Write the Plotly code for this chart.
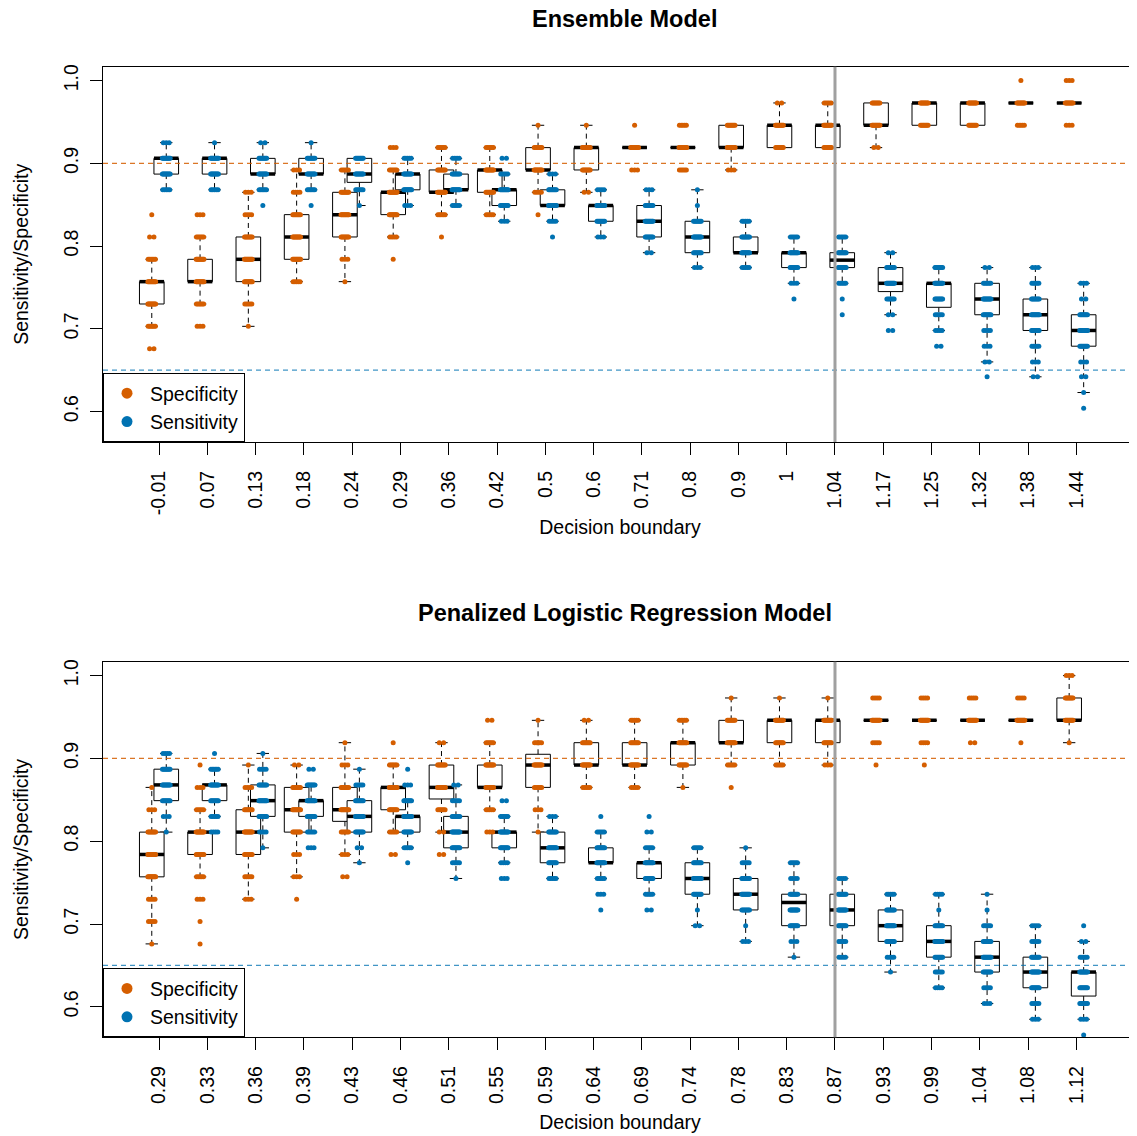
import numpy as np
import plotly.graph_objects as go

# ---------------- data ----------------
ens_labels = ["-0.01", "0.07", "0.13", "0.18", "0.24", "0.29", "0.36", "0.42", "0.5", "0.6",
              "0.71", "0.8", "0.9", "1", "1.04", "1.17", "1.25", "1.32", "1.38", "1.44"]
plr_labels = ["0.29", "0.33", "0.36", "0.39", "0.43", "0.46", "0.51", "0.55", "0.59", "0.64",
              "0.69", "0.74", "0.78", "0.83", "0.87", "0.93", "0.99", "1.04", "1.08", "1.12"]

# box summaries: (lower whisker, Q1, median, Q3, upper whisker)
ens_spec_box = [
    (0.703, 0.730, 0.757, 0.757, 0.784), (0.730, 0.757, 0.757, 0.784, 0.811),
    (0.703, 0.757, 0.784, 0.811, 0.865), (0.757, 0.784, 0.811, 0.838, 0.892),
    (0.757, 0.811, 0.838, 0.865, 0.892), (0.811, 0.838, 0.865, 0.865, 0.892),
    (0.838, 0.865, 0.865, 0.892, 0.919), (0.838, 0.865, 0.892, 0.892, 0.919),
    (0.865, 0.892, 0.892, 0.919, 0.946), (0.865, 0.892, 0.919, 0.919, 0.946),
    (0.919, 0.919, 0.919, 0.919, 0.919), (0.919, 0.919, 0.919, 0.919, 0.919),
    (0.892, 0.919, 0.919, 0.946, 0.946), (0.919, 0.919, 0.946, 0.946, 0.973),
    (0.919, 0.919, 0.946, 0.946, 0.973), (0.919, 0.946, 0.946, 0.973, 0.973),
    (0.946, 0.946, 0.973, 0.973, 0.973), (0.946, 0.946, 0.973, 0.973, 0.973),
    (0.973, 0.973, 0.973, 0.973, 0.973), (0.973, 0.973, 0.973, 0.973, 0.973)]
ens_sens_box = [
    (0.868, 0.887, 0.906, 0.906, 0.925), (0.868, 0.887, 0.906, 0.906, 0.925),
    (0.868, 0.887, 0.887, 0.906, 0.925), (0.868, 0.887, 0.887, 0.906, 0.925),
    (0.849, 0.877, 0.887, 0.906, 0.906), (0.849, 0.868, 0.887, 0.887, 0.906),
    (0.849, 0.868, 0.868, 0.887, 0.906), (0.830, 0.849, 0.868, 0.868, 0.887),
    (0.830, 0.849, 0.849, 0.868, 0.887), (0.811, 0.830, 0.849, 0.849, 0.868),
    (0.792, 0.811, 0.830, 0.849, 0.868), (0.774, 0.792, 0.811, 0.830, 0.868),
    (0.774, 0.792, 0.792, 0.811, 0.830), (0.755, 0.774, 0.792, 0.792, 0.811),
    (0.755, 0.774, 0.783, 0.792, 0.811), (0.717, 0.745, 0.755, 0.774, 0.792),
    (0.698, 0.726, 0.755, 0.755, 0.774), (0.660, 0.717, 0.736, 0.755, 0.774),
    (0.642, 0.698, 0.717, 0.736, 0.774), (0.623, 0.679, 0.698, 0.717, 0.755)]
plr_spec_box = [
    (0.676, 0.757, 0.784, 0.811, 0.865), (0.757, 0.784, 0.811, 0.811, 0.838),
    (0.730, 0.784, 0.811, 0.838, 0.892), (0.757, 0.811, 0.838, 0.865, 0.892),
    (0.784, 0.824, 0.838, 0.865, 0.919), (0.811, 0.838, 0.865, 0.865, 0.892),
    (0.811, 0.851, 0.865, 0.892, 0.919), (0.838, 0.865, 0.865, 0.892, 0.919),
    (0.811, 0.865, 0.892, 0.905, 0.946), (0.865, 0.892, 0.892, 0.919, 0.946),
    (0.865, 0.892, 0.892, 0.919, 0.946), (0.865, 0.892, 0.919, 0.919, 0.946),
    (0.892, 0.919, 0.919, 0.946, 0.973), (0.892, 0.919, 0.946, 0.946, 0.973),
    (0.892, 0.919, 0.946, 0.946, 0.973), (0.946, 0.946, 0.946, 0.946, 0.946),
    (0.946, 0.946, 0.946, 0.946, 0.946), (0.946, 0.946, 0.946, 0.946, 0.946),
    (0.946, 0.946, 0.946, 0.946, 0.946), (0.919, 0.946, 0.946, 0.973, 1.000)]
plr_sens_box = [
    (0.811, 0.849, 0.868, 0.887, 0.906), (0.830, 0.849, 0.868, 0.868, 0.887),
    (0.792, 0.830, 0.849, 0.868, 0.906), (0.811, 0.830, 0.849, 0.849, 0.868),
    (0.774, 0.811, 0.830, 0.849, 0.887), (0.792, 0.811, 0.830, 0.830, 0.849),
    (0.755, 0.792, 0.811, 0.830, 0.868), (0.774, 0.792, 0.811, 0.811, 0.830),
    (0.755, 0.774, 0.792, 0.811, 0.830), (0.755, 0.774, 0.774, 0.792, 0.811),
    (0.736, 0.755, 0.774, 0.774, 0.792), (0.698, 0.736, 0.755, 0.774, 0.792),
    (0.679, 0.717, 0.736, 0.755, 0.792), (0.660, 0.698, 0.726, 0.736, 0.774),
    (0.660, 0.698, 0.717, 0.736, 0.755), (0.642, 0.679, 0.698, 0.717, 0.736),
    (0.623, 0.660, 0.679, 0.698, 0.736), (0.604, 0.642, 0.660, 0.679, 0.736),
    (0.585, 0.623, 0.642, 0.660, 0.698), (0.585, 0.613, 0.642, 0.642, 0.679)]

# observed resample values per boundary: (value, count)
ens_spec_pts = [
    [(0.838, 1), (0.811, 2), (0.784, 6), (0.757, 10), (0.730, 10), (0.703, 6), (0.676, 2)],
    [(0.838, 3), (0.811, 6), (0.784, 10), (0.757, 10), (0.730, 6), (0.703, 3)],
    [(0.865, 3), (0.838, 4), (0.811, 8), (0.784, 10), (0.757, 10), (0.730, 5), (0.703, 1)],
    [(0.892, 3), (0.865, 4), (0.838, 8), (0.811, 10), (0.784, 10), (0.757, 5)],
    [(0.892, 5), (0.865, 8), (0.838, 10), (0.811, 8), (0.784, 3), (0.757, 1)],
    [(0.919, 3), (0.892, 6), (0.865, 10), (0.838, 10), (0.811, 4), (0.784, 1)],
    [(0.919, 6), (0.892, 8), (0.865, 10), (0.838, 6), (0.811, 1)],
    [(0.919, 6), (0.892, 10), (0.865, 8), (0.838, 5)],
    [(0.946, 1), (0.919, 8), (0.892, 10), (0.865, 4), (0.838, 1)],
    [(0.946, 1), (0.919, 10), (0.892, 8), (0.865, 2)],
    [(0.946, 1), (0.919, 10), (0.892, 3)],
    [(0.946, 5), (0.919, 10), (0.892, 5)],
    [(0.946, 8), (0.919, 10), (0.892, 3)],
    [(0.973, 2), (0.946, 10), (0.919, 8)],
    [(0.973, 5), (0.946, 10), (0.919, 8)],
    [(0.973, 8), (0.946, 10), (0.919, 2)],
    [(0.973, 10), (0.946, 8)],
    [(0.973, 10), (0.946, 8)],
    [(1.000, 1), (0.973, 10), (0.946, 5)],
    [(1.000, 3), (0.973, 10), (0.946, 3)]]
ens_sens_pts = [
    [(0.925, 3), (0.906, 10), (0.887, 10), (0.868, 5)],
    [(0.925, 1), (0.906, 10), (0.887, 10), (0.868, 5)],
    [(0.925, 2), (0.906, 8), (0.887, 10), (0.868, 6), (0.849, 1)],
    [(0.925, 1), (0.906, 8), (0.887, 10), (0.868, 6), (0.849, 1)],
    [(0.906, 8), (0.887, 10), (0.868, 6), (0.849, 1)],
    [(0.906, 5), (0.887, 10), (0.868, 10), (0.849, 3)],
    [(0.906, 4), (0.887, 8), (0.868, 10), (0.849, 5)],
    [(0.906, 2), (0.887, 5), (0.868, 10), (0.849, 8), (0.830, 3)],
    [(0.887, 3), (0.868, 8), (0.849, 10), (0.830, 4), (0.811, 1)],
    [(0.868, 4), (0.849, 10), (0.830, 8), (0.811, 3)],
    [(0.868, 3), (0.849, 8), (0.830, 10), (0.811, 8), (0.792, 2)],
    [(0.868, 1), (0.849, 1), (0.830, 8), (0.811, 10), (0.792, 8), (0.774, 3)],
    [(0.830, 5), (0.811, 8), (0.792, 10), (0.774, 5)],
    [(0.811, 5), (0.792, 10), (0.774, 8), (0.755, 3), (0.736, 1)],
    [(0.811, 5), (0.792, 10), (0.774, 10), (0.755, 5), (0.736, 1), (0.717, 1)],
    [(0.792, 2), (0.774, 8), (0.755, 10), (0.736, 6), (0.717, 2), (0.698, 2)],
    [(0.774, 8), (0.755, 10), (0.736, 8), (0.717, 5), (0.698, 4), (0.679, 2)],
    [(0.774, 2), (0.755, 6), (0.736, 10), (0.717, 8), (0.698, 4), (0.679, 3), (0.660, 2), (0.642, 1)],
    [(0.774, 3), (0.755, 5), (0.736, 8), (0.717, 10), (0.698, 8), (0.679, 5), (0.660, 3), (0.642, 2)],
    [(0.755, 3), (0.736, 2), (0.717, 8), (0.698, 10), (0.679, 8), (0.660, 3), (0.642, 2), (0.623, 1), (0.604, 1)]]
plr_spec_pts = [
    [(0.865, 1), (0.838, 3), (0.811, 8), (0.784, 10), (0.757, 10), (0.730, 4), (0.703, 4), (0.676, 1)],
    [(0.892, 1), (0.865, 3), (0.838, 5), (0.811, 10), (0.784, 8), (0.757, 5), (0.730, 3), (0.703, 1), (0.676, 1)],
    [(0.892, 1), (0.865, 4), (0.838, 8), (0.811, 10), (0.784, 8), (0.757, 5), (0.730, 3)],
    [(0.892, 2), (0.865, 8), (0.838, 10), (0.811, 8), (0.784, 3), (0.757, 3), (0.730, 1)],
    [(0.919, 1), (0.892, 3), (0.865, 8), (0.838, 10), (0.811, 6), (0.784, 3), (0.757, 2)],
    [(0.919, 1), (0.892, 6), (0.865, 10), (0.838, 8), (0.811, 5), (0.784, 2)],
    [(0.919, 2), (0.892, 8), (0.865, 10), (0.838, 6), (0.811, 2), (0.784, 2)],
    [(0.946, 2), (0.919, 6), (0.892, 10), (0.865, 8), (0.838, 5), (0.811, 3)],
    [(0.946, 1), (0.919, 5), (0.892, 10), (0.865, 6), (0.838, 3), (0.811, 1)],
    [(0.946, 2), (0.919, 8), (0.892, 10), (0.865, 5)],
    [(0.946, 5), (0.919, 8), (0.892, 10), (0.865, 4)],
    [(0.946, 5), (0.919, 10), (0.892, 8), (0.865, 1)],
    [(0.973, 1), (0.946, 8), (0.919, 10), (0.892, 5), (0.865, 1)],
    [(0.973, 1), (0.946, 10), (0.919, 8), (0.892, 5)],
    [(0.973, 1), (0.946, 10), (0.919, 8), (0.892, 3)],
    [(0.973, 4), (0.946, 10), (0.919, 4), (0.892, 1)],
    [(0.973, 4), (0.946, 10), (0.919, 4), (0.892, 1)],
    [(0.973, 4), (0.946, 10), (0.919, 2)],
    [(0.973, 4), (0.946, 10), (0.919, 1)],
    [(1.000, 3), (0.973, 8), (0.946, 10), (0.919, 1)]]
plr_sens_pts = [
    [(0.906, 4), (0.887, 8), (0.868, 10), (0.849, 8), (0.830, 3), (0.811, 1)],
    [(0.906, 1), (0.887, 6), (0.868, 10), (0.849, 8), (0.830, 5), (0.811, 4)],
    [(0.906, 1), (0.887, 4), (0.868, 8), (0.849, 10), (0.830, 8), (0.811, 4), (0.792, 1)],
    [(0.887, 2), (0.868, 8), (0.849, 10), (0.830, 8), (0.811, 5), (0.792, 3)],
    [(0.887, 1), (0.868, 5), (0.849, 8), (0.830, 10), (0.811, 8), (0.792, 2), (0.774, 1)],
    [(0.887, 1), (0.868, 3), (0.849, 8), (0.830, 10), (0.811, 8), (0.792, 5), (0.774, 1)],
    [(0.868, 2), (0.849, 5), (0.830, 8), (0.811, 10), (0.792, 8), (0.774, 5), (0.755, 1)],
    [(0.849, 2), (0.830, 6), (0.811, 10), (0.792, 8), (0.774, 4), (0.755, 3)],
    [(0.830, 3), (0.811, 8), (0.792, 10), (0.774, 8), (0.755, 5)],
    [(0.830, 1), (0.811, 5), (0.792, 8), (0.774, 10), (0.755, 5), (0.736, 3), (0.717, 1)],
    [(0.830, 1), (0.811, 2), (0.792, 5), (0.774, 10), (0.755, 8), (0.736, 5), (0.717, 2)],
    [(0.792, 5), (0.774, 8), (0.755, 10), (0.736, 8), (0.717, 1), (0.698, 2)],
    [(0.792, 1), (0.774, 5), (0.755, 8), (0.736, 10), (0.717, 8), (0.698, 1), (0.679, 3)],
    [(0.774, 5), (0.755, 4), (0.736, 8), (0.717, 10), (0.698, 8), (0.679, 3), (0.660, 1)],
    [(0.755, 4), (0.736, 8), (0.717, 10), (0.698, 8), (0.679, 5), (0.660, 4)],
    [(0.736, 5), (0.717, 8), (0.698, 10), (0.679, 8), (0.660, 4), (0.642, 1)],
    [(0.736, 4), (0.717, 1), (0.698, 8), (0.679, 10), (0.660, 8), (0.642, 5), (0.623, 4)],
    [(0.736, 1), (0.717, 1), (0.698, 5), (0.679, 8), (0.660, 10), (0.642, 8), (0.623, 4), (0.604, 3)],
    [(0.698, 4), (0.679, 5), (0.660, 8), (0.642, 10), (0.623, 8), (0.604, 5), (0.585, 3)],
    [(0.698, 1), (0.679, 2), (0.660, 5), (0.642, 10), (0.623, 8), (0.604, 8), (0.585, 3), (0.566, 1)]]

spec_target = 0.90
sens_target = 0.65
chosen_index = 15          # highlighted decision boundary (1-based position)
y_limits = (0.58, 1.00)

# ---------------- style ----------------
PAGE_W, PAGE_H = 1137, 1136
PAGE_OFF = 8               # default body margin of the html page
W, H = PAGE_W - PAGE_OFF, PAGE_H - PAGE_OFF
FONT = "Liberation Sans, Arial, Helvetica, sans-serif"
ORANGE = "#D55E00"
BLUE = "#0072B2"
FS = 19.5
OFFSET = 0.15      # horizontal shift of the two boxes per boundary
HALF_W = 0.255     # half box width
CAP_W = 0.128      # half staple width
JIT = 0.09         # jitter half-width
DASH = "5px,4px"

# plot-area geometry (page pixels)
LEFT_PX = 103.3 - PAGE_OFF
PX_PER_UNIT = 48.27
TICK1_PX = 159.3 - PAGE_OFF
panels_px = [(66.7 - PAGE_OFF, 442.0 - PAGE_OFF), (661.7 - PAGE_OFF, 1037.3 - PAGE_OFF)]
x_left = 1 - (TICK1_PX - LEFT_PX) / PX_PER_UNIT
x_right = x_left + (W - LEFT_PX) / PX_PER_UNIT
ext = 0.04 * (y_limits[1] - y_limits[0])
y_range = [y_limits[0] - ext, y_limits[1] + ext]

fig = go.Figure()


def box_paths(stats, centers):
    bx, by, mx, my, wx, wy, cx, cy = [], [], [], [], [], [], [], []
    for (lo, q1, med, q3, hi), c in zip(stats, centers):
        bx += [c - HALF_W, c + HALF_W, c + HALF_W, c - HALF_W, c - HALF_W, None]
        by += [q1, q1, q3, q3, q1, None]
        mx += [c - HALF_W, c + HALF_W, None]
        my += [med, med, None]
        wx += [c, c, None, c, c, None]
        wy += [q3, hi, None, q1, lo, None]
        cx += [c - CAP_W, c + CAP_W, None, c - CAP_W, c + CAP_W, None]
        cy += [hi, hi, None, lo, lo, None]
    return bx, by, mx, my, wx, wy, cx, cy


def strip_points(pts, centers):
    xs, ys = [], []
    for grp, c in zip(pts, centers):
        for v, n in grp:
            half = JIT * (n - 1) / n
            offs = np.linspace(-half, half, n) if n > 1 else np.array([0.0])
            xs += list(c + offs)
            ys += [v] * n
    return xs, ys


def add_panel(labels, spec_box, sens_box, spec_pts, sens_pts, xa, ya, legend_name):
    pos = np.arange(1, len(labels) + 1)
    series = [(spec_box, spec_pts, pos - OFFSET, ORANGE, "Specificity"),
              (sens_box, sens_pts, pos + OFFSET, BLUE, "Sensitivity")]
    geo = [box_paths(s[0], s[2]) for s in series]
    common = dict(xaxis=xa, yaxis=ya, hoverinfo="skip", showlegend=False, mode="lines")
    for g in geo:
        fig.add_trace(go.Scatter(x=g[4], y=g[5], line=dict(color="black", width=1, dash=DASH), **common))
    for g in geo:
        fig.add_trace(go.Scatter(x=g[6], y=g[7], line=dict(color="black", width=1), **common))
    for g in geo:
        fig.add_trace(go.Scatter(x=g[0], y=g[1], fill="toself", fillcolor="white",
                                 line=dict(color="black", width=1), **common))
        fig.add_trace(go.Scatter(x=g[2], y=g[3], line=dict(color="black", width=3.5), **common))
    for _, pts, centers, color, name in series:
        xs, ys = strip_points(pts, centers)
        fig.add_trace(go.Scatter(x=xs, y=ys, mode="markers", xaxis=xa, yaxis=ya,
                                 marker=dict(color=color, size=5, line=dict(width=0)),
                                 name=name, showlegend=False, hoverinfo="y"))
    for _, _, _, color, name in series:
        fig.add_trace(go.Scatter(x=[None], y=[None], mode="markers", xaxis=xa, yaxis=ya,
                                 marker=dict(color=color, size=11), name=name,
                                 legend=legend_name, showlegend=True))


add_panel(ens_labels, ens_spec_box, ens_sens_box, ens_spec_pts, ens_sens_pts, "x", "y", "legend")
add_panel(plr_labels, plr_spec_box, plr_sens_box, plr_spec_pts, plr_sens_pts, "x2", "y2", "legend2")

doms = [[1 - b / H, 1 - t / H] for (t, b) in panels_px]

axis_font = dict(family=FONT, size=FS, color="black")


def xaxis_cfg(labels, anchor, standoff):
    return dict(domain=[0, 1], anchor=anchor, range=[x_left, x_right], automargin=False,
                tickmode="array", tickvals=list(range(1, len(labels) + 1)), ticktext=labels,
                tickangle=-90, ticks="outside", ticklen=12, tickwidth=1, tickcolor="black",
                showline=True, linecolor="black", linewidth=1, mirror=True,
                showgrid=False, zeroline=False, tickfont=axis_font, ticklabelstandoff=8,
                title=dict(text="Decision boundary", font=axis_font, standoff=standoff))


def yaxis_cfg(dom, anchor):
    return dict(domain=dom, anchor=anchor, range=y_range, automargin=False,
                tickmode="array", tickvals=[0.6, 0.7, 0.8, 0.9, 1.0],
                ticktext=["0.6", "0.7", "0.8", "0.9", "1.0"],
                tickangle=-90, ticks="outside", ticklen=12, tickwidth=1, tickcolor="black",
                showline=True, linecolor="black", linewidth=1, mirror=False,
                showgrid=False, zeroline=False, tickfont=axis_font, ticklabelstandoff=4,
                title=dict(text="Sensitivity/Specificity", font=axis_font, standoff=26))


legend_common = dict(x=0, xanchor="left", yanchor="bottom", bgcolor="white",
                     bordercolor="black", borderwidth=1, font=dict(family=FONT, size=FS, color="black"),
                     itemsizing="trace", itemwidth=36, tracegroupgap=0)

shapes = []
for xr, yr in [("x", "y"), ("x2", "y2")]:
    shapes.append(dict(type="line", xref=xr + " domain", x0=0, x1=1, yref=yr, y0=spec_target, y1=spec_target,
                       line=dict(color="rgba(213,94,0,0.85)", width=1.2, dash=DASH), layer="above"))
    shapes.append(dict(type="line", xref=xr + " domain", x0=0, x1=1, yref=yr, y0=sens_target, y1=sens_target,
                       line=dict(color="rgba(0,114,178,0.75)", width=1.2, dash=DASH), layer="above"))
    shapes.append(dict(type="line", xref=xr, x0=chosen_index, x1=chosen_index, yref=yr + " domain", y0=0, y1=1,
                       line=dict(color="#A0A0A0", width=3), layer="above"))

title_x = (625 - PAGE_OFF - LEFT_PX) / (W - LEFT_PX)
annotations = [
    dict(text="<b>Ensemble Model</b>", x=title_x, y=1 - (19 - PAGE_OFF) / H, xref="paper", yref="paper",
         showarrow=False, xanchor="center", yanchor="middle", font=dict(family=FONT, size=23.5, color="black")),
    dict(text="<b>Penalized Logistic Regression Model</b>", x=title_x, y=1 - (613 - PAGE_OFF) / H,
         xref="paper", yref="paper",
         showarrow=False, xanchor="center", yanchor="middle", font=dict(family=FONT, size=23.5, color="black")),
]

fig.update_layout(
    width=W, height=H,
    margin=dict(l=LEFT_PX, r=0, t=0, b=0, autoexpand=False),
    paper_bgcolor="white", plot_bgcolor="white",
    font=dict(family=FONT, size=FS, color="black"),
    xaxis=xaxis_cfg(ens_labels, "y", 6),
    yaxis=yaxis_cfg(doms[0], "x"),
    xaxis2=xaxis_cfg(plr_labels, "y2", 12),
    yaxis2=yaxis_cfg(doms[1], "x2"),
    legend=dict(y=doms[0][0], **legend_common),
    legend2=dict(y=doms[1][0], **legend_common),
    shapes=shapes,
    annotations=annotations,
)

fig.write_html("out.html")
